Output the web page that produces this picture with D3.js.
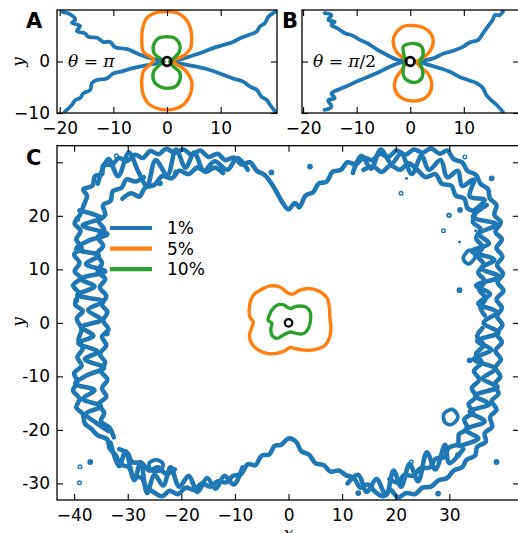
<!DOCTYPE html>
<html><head><meta charset="utf-8">
<script src="https://cdn.jsdelivr.net/npm/d3@7"></script>
<style>
body{margin:0;background:#fff}
text{font-family:"DejaVu Sans",sans-serif}
</style></head>
<body><svg id="chart"></svg>
<script>
// ---------------- DATA ----------------
// Panel A (theta = pi)
const aBlueUL=[[-19.4,9.6],[-18.1,9.2],[-17.1,8.1],[-17.7,7.5],[-16.2,6.9],[-16.8,5.9],[-15.3,5.5],[-14.7,4.8],[-13.0,4.6],[-11.9,3.8],[-10.6,3.8],[-9.7,2.8],[-7.4,2.4],[-5.0,1.3],[-2.6,0.5],[-0.9,0.1]];
const aBlueLL=[[-19.0,-9.7],[-17.7,-8.4],[-17.1,-7.5],[-16.2,-7.1],[-15.6,-6.2],[-14.3,-5.5],[-14.0,-4.2],[-13.1,-3.6],[-11.2,-3.3],[-10.0,-2.3],[-8.8,-2.0],[-6.3,-1.3],[-3.7,-0.7],[-1.3,-0.3]];
const aBlueUR=[[20.2,9.7],[18.9,8.7],[18.2,7.4],[17.3,6.8],[16.7,5.8],[15.1,5.1],[13.6,4.5],[12.3,3.8],[10.5,3.2],[8.6,2.6],[6.1,1.6],[3.7,0.8],[1.5,0.15]];
const aBlueLR=[[20.2,-9.8],[19.2,-8.4],[18.6,-7.5],[17.6,-6.8],[16.7,-5.5],[15.5,-4.9],[14.2,-3.9],[12.3,-3.3],[10.5,-2.6],[8.0,-1.65],[5.5,-1.0],[3.0,-0.5],[1.2,-0.15]];
const aOrange=[[1.2,0],[3.35,1.3],[4.4,2.6],[4.6,4.4],[4.5,5.8],[4.1,7.2],[3.35,8.4],[2.0,9.4],[0,9.7],[-2.0,9.5],[-3.8,8.4],[-4.5,6.6],[-4.7,4.5],[-4.4,1.9],[-2.5,0.3],[-4.4,-1.9],[-4.7,-3.9],[-4.4,-6.5],[-3.2,-8.4],[0,-9.4],[3.0,-8.4],[4.3,-6.5],[4.6,-3.9],[3.35,-1.65]];
const aGreen=[[0,4.8],[1.5,4.5],[2.4,3.2],[2.3,1.9],[1.2,0.6],[0.5,0],[1.2,-1.0],[2.3,-2.0],[2.4,-3.6],[1.5,-4.9],[0,-5.2],[-1.3,-4.9],[-2.4,-3.9],[-2.5,-2.0],[-1.3,-0.6],[-0.5,0],[-1.3,0.6],[-2.4,1.6],[-2.5,3.2],[-1.6,4.5]];
// Panel B (theta = pi/2)
const bBlueUL=[[-16.0,9.4],[-14.7,9.0],[-15.3,8.1],[-14.1,7.7],[-14.7,7.1],[-13.5,6.4],[-12.2,5.5],[-10.7,5.0],[-9.4,4.2],[-7.9,3.5],[-6.3,2.4],[-4.4,1.3],[-2.6,0.4],[-1.3,0.1]];
const bBlueLL=[[-16.0,-9.4],[-14.7,-8.8],[-15.3,-7.5],[-14.1,-7.1],[-14.7,-6.2],[-13.5,-5.5],[-11.9,-4.8],[-10.0,-3.9],[-8.2,-3.1],[-6.3,-2.3],[-4.4,-1.3],[-2.6,-0.5],[-1.3,-0.1]];
const bBlueUR=[[17.3,9.7],[16.7,9.0],[15.8,9.0],[15.4,8.1],[14.5,6.8],[13.6,5.5],[12.7,4.2],[11.1,3.7],[9.9,2.9],[8.3,2.2],[6.1,1.5],[4.3,0.6],[2.4,0.15]];
const bBlueLR=[[17.3,-9.8],[16.1,-8.4],[15.1,-7.5],[14.2,-6.5],[13.6,-5.2],[12.4,-4.2],[10.8,-3.6],[9.2,-3.0],[7.4,-2.0],[5.5,-1.3],[3.6,-0.7],[2.1,-0.2]];
const bOrange=[[0.5,7.0],[2.4,6.6],[3.8,5.5],[4.3,3.9],[3.6,1.9],[2.1,0.5],[1.2,0],[2.1,-1.3],[3.3,-2.3],[4.0,-4.2],[3.6,-6.2],[2.4,-7.3],[-0.1,-7.6],[-2.0,-6.8],[-2.9,-5.2],[-2.7,-3.3],[-1.6,-1.65],[-0.8,0],[-1.3,0.6],[-2.6,1.9],[-3.2,3.9],[-2.7,5.5],[-1.3,6.8]];
const bGreen=[[-0.7,3.3],[0.8,3.5],[2.1,2.9],[2.4,1.3],[1.8,0],[2.3,-1.65],[2.3,-2.9],[1.5,-3.9],[-0.1,-3.9],[-1.2,-2.9],[-1.3,-1.3],[-1.0,0.3],[-1.3,1.9],[-1.3,2.9]];
// Panel C
const cOrange=[[-5.3,6.1],[-3.45,6.9],[-1.6,6.7],[0,5.5],[0.9,5.4],[2.1,6.1],[4.0,6.4],[5.9,5.8],[7.2,4.6],[7.6,3.0],[7.7,1.1],[7.9,-0.75],[7.7,-2.6],[6.8,-4.2],[4.9,-5.0],[2.8,-5.1],[1.2,-4.8],[0.3,-4.6],[-0.65,-5.2],[-2.2,-5.7],[-4.1,-5.7],[-5.6,-5.1],[-6.9,-3.85],[-7.3,-2.3],[-6.7,-0.4],[-6.6,0.2],[-7.2,1.1],[-7.3,3.0],[-6.9,4.6],[-6.25,5.5]];
const cGreen=[[-3.1,2.4],[-2.2,3.3],[-1.0,3.4],[0.3,2.7],[1.5,3.1],[3.1,3.0],[4.0,2.1],[4.1,0.5],[3.7,-1.05],[2.8,-2.0],[1.5,-2.0],[0.3,-1.7],[-1.0,-2.3],[-2.2,-2.9],[-3.1,-2.3],[-3.3,-1.05],[-3.1,-0.1],[-3.8,0.5],[-3.6,1.4]];
const cRing=[[-38.6,-1.2],[-39.5,0.8],[-38.4,2.2],[-39.8,3.4],[-39.2,5.6],[-40.2,7.0],[-38.8,8.4],[-39.9,9.6],[-39.0,11.2],[-40.0,12.8],[-38.6,14.0],[-39.6,15.6],[-38.8,17.2],[-39.9,18.6],[-38.9,20.2],[-38.2,22.0],[-37.6,23.8],[-38.3,24.9],[-36.6,25.6],[-36.1,27.4],[-34.8,27.8],[-34.6,29.4],[-32.9,29.6],[-31.6,30.8],[-30.2,30.2],[-28.6,31.4],[-27.2,30.8],[-25.8,32.1],[-24.2,31.5],[-22.9,32.5],[-21.2,31.8],[-19.6,32.4],[-18.1,31.4],[-16.5,32.2],[-14.9,31.0],[-13.2,31.6],[-11.8,30.4],[-10.2,30.9],[-8.8,29.6],[-7.2,30.0],[-5.9,28.4],[-4.4,27.6],[-3.1,25.9],[-2.2,24.4],[-1.2,22.6],[0.0,21.2],[1.2,22.4],[2.0,21.6],[3.2,23.8],[4.6,24.4],[5.6,26.0],[7.1,26.4],[8.2,28.2],[9.8,28.6],[11.0,30.0],[12.6,29.6],[14.0,30.9],[15.6,30.4],[17.0,31.6],[18.6,31.0],[20.2,32.2],[21.8,31.4],[23.4,32.4],[25.0,31.8],[26.6,32.6],[28.2,31.6],[29.6,32.2],[30.8,30.6],[32.4,30.0],[33.4,28.4],[35.0,27.6],[35.8,26.0],[37.2,25.0],[37.6,23.2],[38.8,22.0],[38.4,20.2],[39.6,18.8],[38.6,17.0],[39.8,15.6],[38.8,14.0],[39.9,12.4],[38.9,10.8],[40.0,9.2],[39.0,7.6],[40.1,6.0],[38.8,4.4],[39.8,2.8],[38.9,1.2],[39.9,-0.4],[38.8,-2.0],[39.8,-3.6],[38.6,-5.2],[39.6,-6.8],[38.6,-8.4],[39.5,-10.0],[38.4,-11.6],[39.2,-13.2],[37.9,-14.6],[38.8,-16.2],[37.6,-17.6],[38.0,-19.4],[36.6,-20.6],[36.8,-22.2],[35.2,-23.2],[34.8,-24.8],[33.2,-25.6],[32.4,-27.0],[30.8,-27.6],[29.6,-29.0],[28.0,-29.4],[26.6,-30.6],[25.0,-30.8],[23.6,-32.0],[22.0,-31.8],[20.4,-32.6],[19.0,-31.2],[17.6,-32.4],[16.2,-31.6],[14.8,-30.2],[13.4,-30.8],[12.2,-29.0],[10.6,-28.4],[9.4,-27.6],[7.8,-27.8],[6.6,-26.6],[5.0,-26.2],[3.8,-24.6],[2.4,-24.0],[1.4,-22.2],[0.0,-21.6],[-1.4,-22.8],[-2.6,-23.0],[-3.6,-24.6],[-5.0,-24.8],[-6.2,-26.6],[-7.6,-26.4],[-8.8,-28.2],[-10.4,-28.6],[-11.6,-29.8],[-13.2,-29.6],[-14.6,-30.6],[-16.2,-30.0],[-17.6,-31.2],[-19.2,-30.8],[-20.6,-32.0],[-22.2,-31.4],[-23.6,-32.4],[-25.2,-31.6],[-26.6,-30.6],[-27.4,-29.0],[-29.0,-28.6],[-29.8,-27.0],[-31.4,-26.4],[-32.2,-24.8],[-33.4,-23.4],[-33.8,-21.8],[-35.6,-21.0],[-36.8,-19.8],[-38.0,-18.8],[-38.4,-17.0],[-39.6,-15.8],[-39.0,-14.2],[-40.2,-12.6],[-39.4,-11.0],[-40.0,-9.4],[-38.6,-8.0],[-39.4,-6.4],[-38.4,-4.8],[-39.2,-3.2]];
const cStrands=[
 [[-27.0,27.2],[-28.6,26.4],[-30.2,26.8],[-31.2,25.2],[-32.8,24.6],[-33.2,22.8],[-34.6,22.0],[-34.2,20.2],[-35.4,19.0],[-34.4,17.4],[-35.6,16.0],[-34.6,14.4],[-35.8,12.8],[-34.8,11.2],[-35.6,9.6],[-34.2,8.2],[-35.2,6.6],[-34.0,5.0],[-34.8,3.4],[-33.8,2.0],[-34.6,0.4],[-33.6,-1.2],[-34.8,-2.6],[-34.0,-4.2],[-35.2,-5.8],[-34.2,-7.4],[-35.0,-9.0],[-33.8,-10.6],[-34.8,-12.2],[-34.0,-13.8],[-35.4,-15.2],[-34.4,-16.8],[-35.0,-18.4],[-33.4,-19.6],[-32.6,-21.4]],
 [[-31.0,23.2],[-29.4,24.2],[-27.8,23.6],[-26.8,25.2],[-25.0,25.8],[-23.6,27.4],[-21.8,27.0],[-20.4,28.4],[-18.6,27.8],[-17.0,29.0],[-15.4,28.2],[-13.8,29.0],[-12.2,28.0]],
 [[14.0,28.6],[15.8,29.2],[17.4,28.2],[19.0,29.4],[20.8,28.6],[22.4,29.8],[24.2,28.4],[25.6,27.2],[27.4,27.8],[28.6,26.0],[30.4,25.6],[31.2,23.8],[32.8,23.2],[33.4,21.4],[34.8,20.6],[34.4,18.8],[35.8,17.6],[35.0,15.8],[36.2,14.2],[35.2,12.6],[36.4,11.0],[35.4,9.4],[36.6,7.8],[35.6,6.2],[36.8,4.6],[35.8,3.0],[36.6,1.4]],
 [[36.2,-1.0],[35.2,-2.6],[36.4,-4.2],[35.0,-5.8],[36.0,-7.4],[34.6,-9.0],[35.6,-10.6],[34.2,-12.2],[35.0,-13.8],[33.6,-15.2],[34.4,-16.8],[32.8,-18.0],[33.4,-19.8],[31.8,-20.8],[31.6,-22.6],[29.8,-23.4],[29.2,-25.0],[27.4,-25.4],[26.4,-27.0],[24.6,-27.2],[23.2,-28.6],[21.6,-28.4],[20.4,-29.8],[18.8,-29.2]],
 [[-31.6,-23.6],[-30.0,-24.4],[-29.2,-26.0],[-27.4,-26.2],[-26.0,-27.6],[-24.4,-27.0],[-22.8,-28.2],[-21.2,-27.4]],
 // zig-zag strands filling the band
 [[-39.0,21.0],[-35.0,19.6],[-38.4,18.2],[-33.8,16.6],[-37.2,15.4],[-39.6,13.8],[-35.4,12.6],[-37.8,11.0],[-34.2,9.6],[-38.8,8.2],[-36.2,6.8],[-39.4,5.2],[-34.6,4.0],[-37.4,2.4],[-35.0,0.6],[-38.6,-0.8],[-36.4,-2.4],[-39.2,-3.8],[-35.6,-5.4],[-38.0,-6.8],[-34.4,-8.4],[-37.6,-9.8],[-39.8,-11.4],[-36.2,-12.6],[-38.4,-14.2],[-35.0,-15.6],[-37.8,-17.0],[-36.0,-18.6],[-33.6,-20.2]],
 [[-35.6,26.0],[-33.6,30.6],[-31.8,27.4],[-29.8,31.8],[-28.0,28.2],[-26.4,25.6],[-24.8,30.4],[-22.6,27.6],[-21.0,32.4],[-19.2,29.0],[-17.6,31.8],[-15.8,28.4],[-13.8,30.2],[-11.4,28.6],[-9.6,30.8],[-7.6,28.6]],
 [[12.0,28.0],[13.6,31.2],[15.4,28.8],[17.2,32.4],[19.2,29.8],[21.0,31.6],[23.0,27.8],[24.8,31.2],[26.2,28.6],[28.4,30.4],[29.6,27.2],[31.6,28.4],[32.4,25.6],[34.6,26.8],[33.8,23.6],[36.6,23.0],[34.6,21.0]],
 [[37.0,22.0],[34.4,19.8],[38.8,18.4],[35.6,16.6],[37.4,14.8],[34.2,13.4],[38.4,11.8],[36.0,10.2],[39.4,8.6],[35.0,7.0],[37.6,5.4],[35.4,3.6],[38.8,2.0],[36.4,0.0],[39.2,-1.8],[35.2,-3.4],[37.8,-5.0],[34.6,-6.8],[38.6,-8.6],[36.2,-10.4],[39.0,-12.0],[34.8,-13.6],[37.4,-15.2],[33.8,-16.6],[36.6,-18.4],[33.0,-20.0],[35.4,-21.6],[31.8,-23.0]],
 [[32.6,-23.6],[30.0,-26.2],[29.2,-22.8],[27.4,-27.4],[25.8,-24.2],[24.2,-29.6],[22.6,-26.4],[21.0,-30.6],[19.6,-27.6],[18.2,-32.2],[16.4,-29.2],[14.6,-31.6],[13.0,-28.4],[11.0,-30.0]],
 [[-33.2,-22.4],[-31.6,-26.8],[-30.4,-24.0],[-28.8,-29.4],[-27.6,-26.0],[-26.4,-31.8],[-25.0,-28.4],[-23.4,-30.4],[-22.0,-27.0],[-20.4,-30.6],[-18.6,-28.6],[-17.0,-31.6],[-15.2,-29.0],[-13.6,-31.0],[-12.0,-28.6],[-10.2,-30.2],[-8.6,-27.0]]
];
const cLoops=[
 [[-26.0,-26.2],[-24.6,-25.6],[-23.4,-26.4],[-24.0,-27.6],[-25.6,-27.6]],
 [[29.0,-17.0],[30.6,-16.2],[31.6,-17.6],[30.4,-19.0],[29.2,-18.6]],
 [[32.6,12.0],[33.8,13.6],[34.8,12.4],[33.6,11.0]]
];
const cBlobs=[[-37.0,-26.0],[-24.0,26.1],[4.0,29.2],[33.8,-7.0],[37.9,27.0],[-39.4,19.4],[-33.9,-2.0],[38.8,-26.0],[31.6,-24.7],[27.9,-31.9],[13.0,-31.8],[31.9,6.1],[32.0,21.1],[-21.0,28.1],[-3.2,28.1],[-39.6,4.2]];
const cRings=[[-38.9,-26.9],[-39.0,-29.9],[21.0,24.2],[29.9,20.1],[28.9,17.2],[22.9,-26.0],[32.9,31.0],[30.0,20.1],[-32.1,31.2]];
const cSpecks=[[31.9,15.1],[34.9,17.2],[22.0,27.0]];
const legendLabels=["1%","5%","10%"];
const abXTicks=[-20,-10,0,10], abYTicks=[-10,0];
const cXTicks=[-40,-30,-20,-10,0,10,20,30], cYTicks=[-30,-20,-10,0,10,20,30];
const cYLabelled=[-30,-20,-10,0,10,20];

// ---------------- DRAW ----------------
const W=518,H=533;
const BLUE="#1f77b4",ORANGE="#ff7f0e",GREEN="#2ca02c";
const svg=d3.select("#chart").attr("width",W).attr("height",H);

function makePanel(id,box,xd,yd){
  const x=d3.scaleLinear().domain(xd).range([box.x0,box.x1]);
  const y=d3.scaleLinear().domain(yd).range([box.y1,box.y0]);
  svg.append("clipPath").attr("id","clip"+id).append("rect")
    .attr("x",box.x0).attr("y",box.y0).attr("width",box.x1-box.x0).attr("height",box.y1-box.y0);
  const g=svg.append("g").attr("clip-path",`url(#clip${id})`);
  const open=d3.line().x(d=>x(d[0])).y(d=>y(d[1])).curve(d3.curveCatmullRom.alpha(0.5));
  const closed=d3.line().x(d=>x(d[0])).y(d=>y(d[1])).curve(d3.curveCatmullRomClosed.alpha(0.5));
  return {x,y,g,box,open,closed};
}
function path(p,data,color,w,isClosed){
  p.g.append("path").attr("d",(isClosed?p.closed:p.open)(data)).attr("fill","none")
    .attr("stroke",color).attr("stroke-width",w).attr("stroke-linejoin","round").attr("stroke-linecap","round");
}
function centerRing(p,r,w){
  p.g.append("circle").attr("cx",p.x(0)).attr("cy",p.y(0)).attr("r",p.x(r)-p.x(0))
    .attr("fill","none").attr("stroke","#000").attr("stroke-width",w);
}
function styleAxis(sel){
  sel.select(".domain").remove();
  sel.selectAll("line").attr("stroke","#000").attr("stroke-width",1.1);
  sel.selectAll("text").attr("fill","#000").style("font-size","17px").style("font-family","DejaVu Sans");
}
function axes(p,o){
  const {x,y,box}=p;
  const none=()=>"";
  svg.append("g").attr("transform",`translate(0,${box.y1})`)
    .call(d3.axisBottom(x).tickValues(o.xt).tickSizeInner(-6).tickSizeOuter(0).tickPadding(9).tickFormat(o.xLab?o.xf:none)).call(styleAxis);
  svg.append("g").attr("transform",`translate(0,${box.y0})`)
    .call(d3.axisTop(x).tickValues(o.xt).tickSizeInner(-6).tickSizeOuter(0).tickFormat(none)).call(styleAxis);
  svg.append("g").attr("transform",`translate(${box.x0},0)`)
    .call(d3.axisLeft(y).tickValues(o.yt).tickSizeInner(-6).tickSizeOuter(0).tickPadding(7).tickFormat(o.yLab?o.yf:none)).call(styleAxis);
  svg.append("g").attr("transform",`translate(${box.x1},0)`)
    .call(d3.axisRight(y).tickValues(o.yt).tickSizeInner(-6).tickSizeOuter(0).tickFormat(none)).call(styleAxis);
  svg.append("rect").attr("x",box.x0).attr("y",box.y0).attr("width",box.x1-box.x0).attr("height",box.y1-box.y0)
    .attr("fill","none").attr("stroke","#000").attr("stroke-width",1.3);
}
function mathLabel(x,y,parts){
  const t=svg.append("text").attr("x",x).attr("y",y).attr("dominant-baseline","middle")
    .style("font-family","DejaVu Serif").style("font-size","17px");
  parts.forEach(([s,it])=>t.append("tspan").text(s).style("font-style",it?"italic":"normal"));
}
function panelLetter(x,y,s){
  svg.append("text").attr("x",x).attr("y",y).text(s).style("font-weight","bold").style("font-size","21px");
}
function yLabel(x,y){
  svg.append("text").attr("transform",`translate(${x},${y}) rotate(-90)`).attr("text-anchor","middle")
    .style("font-family","DejaVu Serif").style("font-style","italic").style("font-size","17px").text("y");
}

// Panel A
const A=makePanel("A",{x0:57,x1:277,y0:10,y1:113},[-20.5,20.5],[-10,10]);
[aBlueUL,aBlueLL,aBlueUR,aBlueLR].forEach(d=>path(A,d,BLUE,3.8,false));
path(A,aOrange,ORANGE,3.4,true);
path(A,aGreen,GREEN,3.4,true);
centerRing(A,0.8,2.8);
axes(A,{xt:abXTicks,yt:abYTicks,xLab:true,yLab:true,xf:d3.format("d"),yf:d3.format("d")});
mathLabel(68,62,[["θ",true],[" = ",false],["π",true]]);
panelLetter(26,28,"A");
yLabel(24,62);

// Panel B
const B=makePanel("B",{x0:302,x1:519,y0:10,y1:113},[-20.2,20.3],[-10,10]);
[bBlueUL,bBlueLL,bBlueUR,bBlueLR].forEach(d=>path(B,d,BLUE,3.8,false));
path(B,bOrange,ORANGE,3.4,true);
path(B,bGreen,GREEN,3.4,true);
centerRing(B,0.8,2.8);
axes(B,{xt:abXTicks,yt:abYTicks,xLab:true,yLab:false,xf:d3.format("d")});
mathLabel(313,62,[["θ",true],[" = ",false],["π",true],["/2",false]]);
panelLetter(282,28,"B");

// Panel C
const C=makePanel("C",{x0:57,x1:519,y0:145.7,y1:500},[-43.2,43.0],[-33.1,33.1]);
path(C,cRing,BLUE,4.6,true);
cStrands.forEach(d=>path(C,d,BLUE,4.6,false));
cLoops.forEach(d=>path(C,d,BLUE,3.8,true));
C.g.selectAll(".blob").data(cBlobs).join("circle").attr("cx",d=>C.x(d[0])).attr("cy",d=>C.y(d[1])).attr("r",2.9).attr("fill",BLUE);
C.g.selectAll(".ring").data(cRings).join("circle").attr("cx",d=>C.x(d[0])).attr("cy",d=>C.y(d[1])).attr("r",1.8).attr("fill","none").attr("stroke",BLUE).attr("stroke-width",1.4);
C.g.selectAll(".speck").data(cSpecks).join("circle").attr("cx",d=>C.x(d[0])).attr("cy",d=>C.y(d[1])).attr("r",1.5).attr("fill",BLUE);
path(C,cOrange,ORANGE,3.4,true);
path(C,cGreen,GREEN,3.4,true);
centerRing(C,0.7,2.2);
axes(C,{xt:cXTicks,yt:cYTicks,xLab:true,yLab:true,xf:d3.format("d"),yf:d=>cYLabelled.includes(d)?String(d):""});
panelLetter(26,165,"C");
yLabel(24,322);
svg.append("text").attr("x",C.x(0)).attr("y",539).attr("text-anchor","middle")
  .style("font-family","DejaVu Serif").style("font-style","italic").style("font-size","17px").text("x");

// Legend
const legColors=[BLUE,ORANGE,GREEN];
const leg=svg.append("g");
legendLabels.forEach((lab,i)=>{
  const yy=228+i*20.6;
  leg.append("line").attr("x1",110).attr("x2",152).attr("y1",yy).attr("y2",yy).attr("stroke",legColors[i]).attr("stroke-width",4.2);
  leg.append("text").attr("x",167).attr("y",yy).attr("dominant-baseline","central").style("font-size","17px").text(lab);
});
</script></body></html>
